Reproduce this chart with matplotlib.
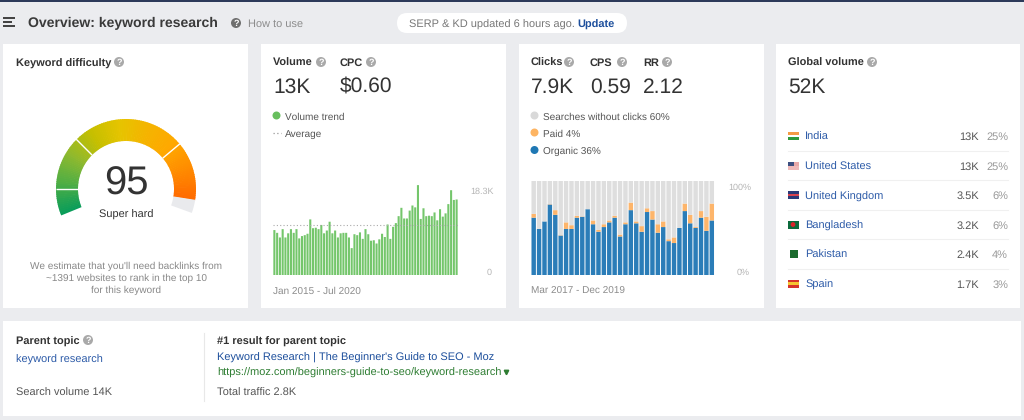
import numpy as np
from matplotlib import pyplot as plt
from matplotlib.colors import LinearSegmentedColormap
from matplotlib.patches import Circle, FancyBboxPatch, Rectangle, Wedge

plt.rcParams['font.family'] = ['Liberation Sans', 'DejaVu Sans']
plt.rcParams['text.hinting'] = 'no_hinting'
plt.rcParams['text.hinting_factor'] = 1

W, H = 1024, 420

BG = '#ebecef'
DARK = '#333333'
GREY = '#8c8c8c'
LINK = '#2d5ba8'

# volume per month, thousands, Jan 2015 - Jul 2020
volume = [9.7, 9.1, 8.1, 9.9, 8.1, 9.0, 9.9, 9.1, 9.9, 7.9, 8.4, 8.6, 8.9, 12.0,
          10.1, 10.2, 9.9, 10.8, 9.0, 9.6, 11.5, 9.0, 9.6, 8.1, 9.0, 9.1, 9.1, 8.1,
          5.8, 8.8, 8.6, 9.2, 7.8, 9.9, 8.8, 7.4, 7.5, 6.8, 7.7, 8.9, 8.2, 10.9,
          7.8, 10.4, 11.2, 12.7, 14.5, 12.2, 12.2, 13.9, 15.0, 14.6, 19.4, 12.1,
          14.4, 12.7, 12.8, 12.7, 13.5, 11.8, 14.2, 12.6, 13.3, 15.3, 18.3, 16.2, 16.3]
volume_avg = 10.7

# clicks share per month, percent, Mar 2017 - Dec 2019
organic = [61, 49, 57, 75, 64, 42, 49, 49, 61, 62, 70, 54, 46, 51, 56, 61, 41,
           54, 69, 55, 46, 67, 59, 45, 51, 36, 34, 50, 68, 55, 50, 61, 47, 58]
paid = [4, 0, 0, 0.4, 5, 0.4, 7, 4, 2, 0.4, 0, 4, 2, 3, 2, 2, 2,
        2, 8, 2, 6, 4, 9, 9, 6, 2, 6, 0, 8, 9, 1, 7, 15, 18]

countries = ['India', 'United States', 'United Kingdom', 'Bangladesh', 'Pakistan', 'Spain']
country_vol = ['13K', '13K', '3.5K', '3.2K', '2.4K', '1.7K']
country_pct = ['25%', '25%', '6%', '6%', '4%', '3%']

difficulty = 95

# gradient along the gauge, from its start to its end
gauge_colors = ['#0a9d5a', '#4fae45', '#8fb92e', '#c5bf00', '#e6c400', '#f5b400',
                '#ffa800', '#ff8a00', '#ff6a00']
gauge_cmap = LinearSegmentedColormap.from_list('kd', gauge_colors)


def Y(y):
    # pixel rows count from the top in the reference
    return H - y


def txt(x, y, s, size=9, color=DARK, weight='normal', ha='left'):
    ax.text(x, Y(y) - 1.4, s, fontsize=size, color=color, fontweight=weight, ha=ha, va='center')


def card(x0, y0, x1, y1):
    ax.add_patch(Rectangle((x0, Y(y1)), x1 - x0, y1 - y0, fc='white', ec='none'))


def help_icon(x, y, r=5, color='#a9a9a9'):
    ax.add_patch(Circle((x, Y(y)), r, fc=color, ec='none'))
    ax.text(x, Y(y) - 0.3, '?', fontsize=r * 1.25, color='white', fontweight='bold', ha='center', va='center')


def flag(x, y, bands, w=11):
    # bands are stacked from the top, each one equal height
    h = 8.0 / len(bands)
    for i, c in enumerate(bands):
        ax.add_patch(Rectangle((x, Y(y - 4 + (i + 1) * h)), w, h, fc=c, ec='none'))


fig = plt.figure(figsize=(W / 100, H / 100), dpi=100, facecolor=BG)
ax = fig.add_axes([0, 0, 1, 1])
ax.set_xlim(0, W)
ax.set_ylim(0, H)
ax.axis('off')

# header
ax.add_patch(Rectangle((0, Y(2)), W, 2, fc='#2c3a5a', ec='none'))
for yy, ww in [(18, 12), (22, 9), (26, 12)]:
    ax.add_patch(Rectangle((3, Y(yy) - 0.7), ww, 1.4, fc='#444444', ec='none'))
txt(28, 22, 'Overview: keyword research', 10.2, '#3a3a3a', 'bold')
help_icon(236, 23, 5, '#6f6f6f')
txt(248, 23, 'How to use', 7.9, GREY)
ax.add_patch(FancyBboxPatch((397, Y(33)), 230, 20, boxstyle='round,pad=0,rounding_size=10',
                            fc='white', ec='none'))
txt(409, 23, 'SERP & KD updated 6 hours ago.', 8.0, '#777777')
txt(577, 23, 'Update', 8.0, '#1d4f9c', 'bold')

card(3, 44, 248, 308)
card(261, 44, 506, 308)
card(519, 44, 764, 308)
card(776, 44, 1020, 308)
card(3, 321, 1021, 416)

# keyword difficulty card
txt(16, 62, 'Keyword difficulty', 8.0, DARK, 'bold')
help_icon(119, 62)
cx, cy = 126, 189
start, sweep = 202, 222
end_kd = start - sweep * difficulty / 100
steps = 120
for i in range(steps):
    a1 = start - (start - end_kd) * i / steps
    a0 = start - (start - end_kd) * (i + 1) / steps
    ax.add_patch(Wedge((cx, Y(cy)), 70, a0 - 0.5, a1 + 0.2, width=22,
                       fc=gauge_cmap(i / steps), ec='none'))
ax.add_patch(Wedge((cx, Y(cy)), 70, start - sweep, end_kd, width=22, fc='#e9eaed', ec='none'))
for ang in [180, 135, 40]:
    c, s = np.cos(np.radians(ang)), np.sin(np.radians(ang))
    ax.plot([cx + 48 * c, cx + 70.5 * c], [Y(cy) + 48 * s, Y(cy) + 70.5 * s], color='white', lw=1.0,
            solid_capstyle='butt')
ax.text(cx, Y(184), str(difficulty), fontsize=28.5, color=DARK, ha='center', va='center')
ax.text(cx, Y(215), 'Super hard', fontsize=7.7, color=DARK, ha='center', va='center')
for yy, line in [(266, 'We estimate that you\'ll need backlinks from'),
                 (278, '~1391 websites to rank in the top 10'),
                 (290, 'for this keyword')]:
    ax.text(126, Y(yy), line, fontsize=7.2, color='#888888', ha='center', va='center')

# volume card
txt(273, 62, 'Volume', 8.0, DARK, 'bold')
help_icon(321, 62)
txt(340, 62, 'CPC', 8.0, DARK, 'bold')
help_icon(371, 62)
txt(273, 86, '13K', 15, DARK)
txt(340, 86, '$0.60', 15, DARK)
ax.add_patch(Circle((276.5, Y(115.5)), 4, fc='#68bf5e', ec='none'))
txt(285, 115.5, 'Volume trend', 7.3, '#555555')
ax.plot([273, 281], [Y(132.5)] * 2, color='#999999', lw=0.9, ls=(0, (1, 2)))
txt(285, 132.5, 'Average', 7.3, '#555555')
txt(273, 289.5, 'Jan 2015 - Jul 2020', 7.3, GREY)

# clicks card
txt(531, 62, 'Clicks', 8.0, DARK, 'bold')
help_icon(569, 62)
txt(590, 62, 'CPS', 8.0, DARK, 'bold')
help_icon(622, 62)
txt(643, 62, 'RR', 8.0, DARK, 'bold')
help_icon(667, 62)
txt(531, 86, '7.9K', 15, DARK)
txt(590, 86, '0.59', 15, DARK)
txt(643, 86, '2.12', 15, DARK)
for yy, c, label in [(115.5, '#d9d9d9', 'Searches without clicks 60%'),
                     (132.5, '#fdb462', 'Paid 4%'),
                     (150, '#1f78b4', 'Organic 36%')]:
    ax.add_patch(Circle((534.5, Y(yy)), 4, fc=c, ec='none'))
    txt(543, yy, label, 7.3, '#555555')
txt(531, 289.5, 'Mar 2017 - Dec 2019', 7.3, GREY)

# global volume card
txt(788, 62, 'Global volume', 8.0, DARK, 'bold')
help_icon(872, 62)
txt(788, 86, '52K', 15, DARK)
flags = [['#f59b45', '#ffffff', '#2f9a3c'], ['#e8a9a9', '#efb9b9'],
         ['#2b3a78', '#d8434f', '#2b3a78'], ['#0b6a3c'], ['#1c6b2e'],
         ['#d6332b', '#f5c531', '#d6332b']]
for i, name in enumerate(countries):
    yy = 136 + i * 29.5
    if name == 'Pakistan':
        flag(790, yy, flags[i], 8)
    else:
        flag(788, yy, flags[i])
    if name == 'United States':
        ax.add_patch(Rectangle((788, Y(yy)), 5.5, 4, fc='#3d4f80', ec='none'))
    if name == 'Bangladesh':
        ax.add_patch(Circle((793, Y(yy)), 2.4, fc='#d8232a', ec='none'))
    txt(805, yy, name, 7.9, LINK)
    ax.text(979, Y(yy) - 1.4, country_vol[i], fontsize=7.9, color='#555555', ha='right', va='center')
    ax.text(1008, Y(yy) - 1.4, country_pct[i], fontsize=7.9, color='#999999', ha='right', va='center')
    if i < len(countries) - 1:
        ax.plot([788, 1008], [Y(yy + 14.8)] * 2, color='#f0f0f0', lw=0.8)

# bottom card
txt(16, 340, 'Parent topic', 7.8, DARK, 'bold')
help_icon(88, 340)
txt(16, 358, 'keyword research', 7.8, LINK)
txt(16, 392, 'Search volume 14K', 7.9, '#555555')
ax.plot([204, 204], [Y(333), Y(401)], color='#e8e8e8', lw=0.8)
txt(217, 340, '#1 result for parent topic', 7.6, DARK, 'bold')
txt(217, 356.5, 'Keyword Research | The Beginner\'s Guide to SEO - Moz', 7.9, '#1d4f9c')
txt(217, 371, 'https://moz.com/beginners-guide-to-seo/keyword-research', 7.9, '#2e7d32')
ax.plot([506], [Y(372)], marker='v', ms=3.2, color='#2e7d32', ls='none')
txt(217, 392, 'Total traffic 2.8K', 7.9, '#555555')

# volume chart
ax1 = fig.add_axes([273 / W, 1 - 275 / H, 185 / W, 90 / H])
ax1.bar(range(len(volume)), volume, width=0.75, color='#74c66b', snap=False)
ax1.axhline(volume_avg, color='#aaaaaa', lw=0.8, ls=(0, (1, 2)))
ax1.set_xlim(-0.5, len(volume) - 0.5)
ax1.set_ylim(0, 90 / 13.9 * 3)
ax1.axis('off')
txt(470, 190, '18.3K', 6.6, '#b5b5b5')
txt(487, 271, '0', 6.6, '#b5b5b5')

# clicks chart
ax2 = fig.add_axes([531 / W, 1 - 275 / H, 183.5 / W, 94 / H])
x = np.arange(len(organic))
organic = np.array(organic, dtype=float)
paid = np.array(paid, dtype=float)
ax2.bar(x, organic, width=0.82, color='#2b7db8', snap=False)
ax2.bar(x, paid, width=0.82, bottom=organic, color='#fdb56b', snap=False)
ax2.bar(x, 100 - organic - paid, width=0.82, bottom=organic + paid, color='#dedede', snap=False)
ax2.set_xlim(-0.5, len(organic) - 0.5)
ax2.set_ylim(0, 100)
ax2.axis('off')
txt(728, 186, '100%', 6.6, '#b5b5b5')
txt(737, 271.5, '0%', 6.6, '#b5b5b5')

fig.savefig('out.png', dpi=100, facecolor=BG)
